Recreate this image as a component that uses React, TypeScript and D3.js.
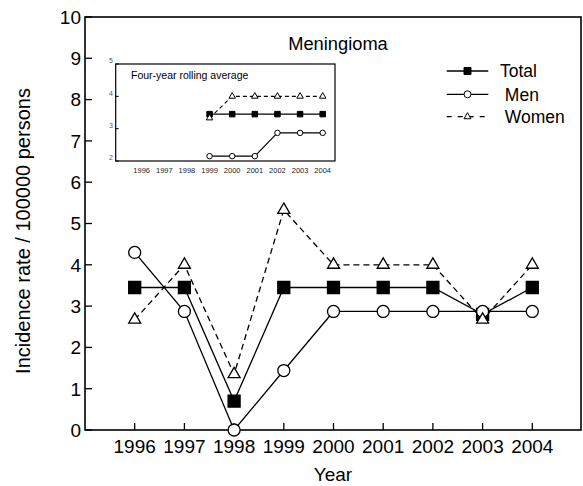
import React from "react";
import * as d3 from "d3";

const years = [1996, 1997, 1998, 1999, 2000, 2001, 2002, 2003, 2004];
const totalValues = [3.45, 3.45, 0.7, 3.45, 3.45, 3.45, 3.45, 2.8, 3.45];
const menValues = [4.3, 2.87, 0, 1.44, 2.87, 2.87, 2.87, 2.87, 2.87];
const womenValues = [2.67, 4.0, 1.35, 5.33, 4.0, 4.0, 4.0, 2.67, 4.0];

const insetYears = [1999, 2000, 2001, 2002, 2003, 2004];
const insetTotal = [3.45, 3.45, 3.45, 3.45, 3.45, 3.45];
const insetMen = [2.15, 2.15, 2.15, 2.87, 2.87, 2.87];
const insetWomen = [3.33, 4.0, 4.0, 4.0, 4.0, 4.0];

const yTicks = [0, 1, 2, 3, 4, 5, 6, 7, 8, 9, 10];
const insetYTicks = [2, 3, 4, 5];
const seriesNames = ["Total", " Men", " Women"];

const FONT = "'Liberation Sans', Arial, Helvetica, sans-serif";

type Kind = "square" | "circle" | "triangle";

function marker(kind: Kind, size: number) {
  if (kind === "square") return d3.symbol().type(d3.symbolSquare).size(size * size)() as string;
  if (kind === "circle") return d3.symbol().type(d3.symbolCircle).size(Math.PI * (size / 2) * (size / 2))() as string;
  return d3.symbol().type(d3.symbolTriangle).size((Math.sqrt(3) / 4) * size * size)() as string;
}

export default function App() {
  const W = 583, H = 486;
  const x = d3.scaleLinear().domain([1995, 2005]).range([85, 582]);
  const y = d3.scaleLinear().domain([0, 10]).range([430, 17]);

  const ix = d3.scaleLinear().domain([1996, 2004]).range([141.7, 322.7]);
  const iy = d3.scaleLinear().domain([2, 5]).range([161, 64]);
  const insetLeft = 115.7, insetRight = 335;

  const line = d3.line<[number, number]>().x((d) => x(d[0])).y((d) => y(d[1]));
  const iline = d3.line<[number, number]>().x((d) => ix(d[0])).y((d) => iy(d[1]));

  const main = [
    { vals: totalValues, kind: "square" as Kind, fill: "#000", dash: undefined as string | undefined },
    { vals: menValues, kind: "circle" as Kind, fill: "#fff", dash: undefined },
    { vals: womenValues, kind: "triangle" as Kind, fill: "#fff", dash: "6,4" },
  ];
  const inset = [
    { vals: insetTotal, kind: "square" as Kind, fill: "#000", dash: undefined as string | undefined },
    { vals: insetMen, kind: "circle" as Kind, fill: "#fff", dash: undefined },
    { vals: insetWomen, kind: "triangle" as Kind, fill: "#fff", dash: "4,3" },
  ];

  const legendY = [71, 94.3, 116.7];

  return (
    <svg width={W} height={H} style={{ position: "absolute", left: 0, top: 0, background: "#fff" }} fontFamily={FONT}>
      <rect x={0} y={0} width={W} height={H} fill="#fff" />
      {/* main frame */}
      <rect x={85} y={17} width={496} height={413} fill="none" stroke="#000" strokeWidth={1.6} />
      {/* y ticks */}
      {yTicks.map((t) => (
        <g key={"yt" + t}>
          <line x1={85} x2={92} y1={y(t)} y2={y(t)} stroke="#000" strokeWidth={1.3} />
          <text x={81} y={y(t)} dy="0.36em" textAnchor="end" fontSize={19}>{t}</text>
        </g>
      ))}
      {/* x ticks */}
      {years.map((yr) => (
        <g key={"xt" + yr}>
          <line x1={x(yr)} x2={x(yr)} y1={430} y2={423} stroke="#000" strokeWidth={1.3} />
          <text x={x(yr)} y={453} textAnchor="middle" fontSize={19}>{yr}</text>
        </g>
      ))}
      <text x={333} y={481} textAnchor="middle" fontSize={19}>Year</text>
      <text transform={`translate(30,${231}) rotate(-90)`} textAnchor="middle" fontSize={20}>
        Incidence rate / 100000 persons
      </text>
      <text x={338} y={49.5} textAnchor="middle" fontSize={18.3}>Meningioma</text>

      {/* main series */}
      {main.map((s, i) => (
        <g key={"s" + i}>
          <path
            d={line(years.map((yr, j) => [yr, s.vals[j]] as [number, number])) as string}
            fill="none"
            stroke="#000"
            strokeWidth={1.3}
            strokeDasharray={s.dash}
          />
        </g>
      ))}
      {main.map((s, i) => (
        <g key={"m" + i}>
          {years.map((yr, j) => (
            <path
              key={yr}
              d={marker(s.kind, 12)}
              transform={`translate(${x(yr)},${y(s.vals[j])})`}
              fill={s.fill}
              stroke="#000"
              strokeWidth={1.3}
            />
          ))}
        </g>
      ))}

      {/* legend */}
      {main.map((s, i) => (
        <g key={"lg" + i}>
          <line x1={446.7} x2={488.3} y1={legendY[i]} y2={legendY[i]} stroke="#000" strokeWidth={1.3} strokeDasharray={s.dash ? "5,6" : undefined} />
          <path d={marker(s.kind, 7)} transform={`translate(467.5,${legendY[i]})`} fill={s.fill} stroke="#000" strokeWidth={1} />
          <text x={500} y={legendY[i]} dy="0.36em" fontSize={17.5} style={{ whiteSpace: "pre" }}>{seriesNames[i]}</text>
        </g>
      ))}

      {/* inset */}
      <rect x={insetLeft} y={iy(5)} width={insetRight - insetLeft} height={iy(2) - iy(5)} fill="#fff" stroke="#000" strokeWidth={1.2} />
      {insetYTicks.map((t) => (
        <g key={"iyt" + t}>
          <line x1={insetLeft} x2={insetLeft + 3} y1={iy(t)} y2={iy(t)} stroke="#000" strokeWidth={1} />
          <text x={113} y={iy(t)} dy="-0.1em" textAnchor="end" fontSize={7} fill="#555">{t}</text>
        </g>
      ))}
      {years.map((yr) => (
        <text key={"ixl" + yr} x={ix(yr)} y={172.5} textAnchor="middle" fontSize={7.5} fill="#222">{yr}</text>
      ))}
      <text x={131} y={79} fontSize={10.5}>Four-year rolling average</text>
      {inset.map((s, i) => (
        <path
          key={"is" + i}
          d={iline(insetYears.map((yr, j) => [yr, s.vals[j]] as [number, number])) as string}
          fill="none"
          stroke="#000"
          strokeWidth={1.1}
          strokeDasharray={s.dash}
        />
      ))}
      {inset.map((s, i) => (
        <g key={"im" + i}>
          {insetYears.map((yr, j) => (
            <path
              key={yr}
              d={marker(s.kind, s.kind === "triangle" ? 6.5 : 5.5)}
              transform={`translate(${ix(yr)},${iy(s.vals[j])})`}
              fill={s.fill}
              stroke="#000"
              strokeWidth={1}
            />
          ))}
        </g>
      ))}
    </svg>
  );
}
